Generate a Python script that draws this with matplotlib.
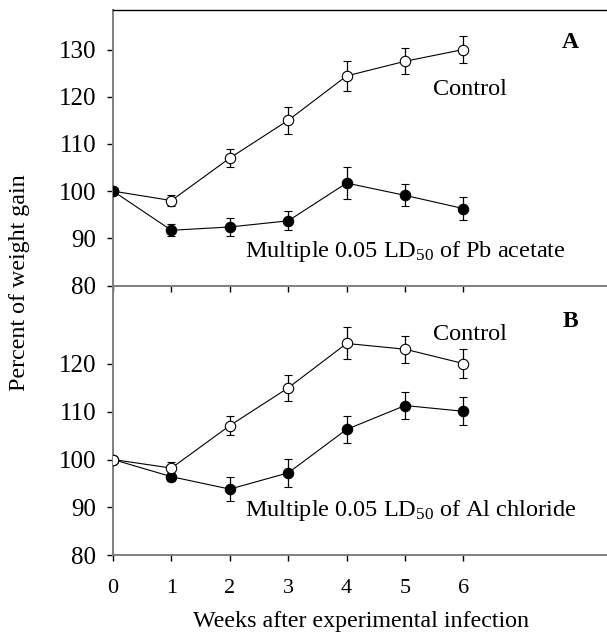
import matplotlib
matplotlib.use("Agg")
import matplotlib.pyplot as plt

plt.rcParams['font.family'] = ['Liberation Serif', 'DejaVu Serif']
plt.rcParams['mathtext.fontset'] = 'custom'
plt.rcParams['mathtext.rm'] = 'Liberation Serif'
plt.rcParams['mathtext.it'] = 'Liberation Serif:italic'
plt.rcParams['mathtext.bf'] = 'Liberation Serif:bold'

weeks = [0, 1, 2, 3, 4, 5, 6]

# Panel A
ctrl_a = [100, 98.0, 107.0, 115.0, 124.4, 127.5, 130.0]
ctrl_a_err = [0, 1.1, 1.85, 2.8, 3.1, 2.75, 2.9]
pb = [100, 91.7, 92.4, 93.7, 101.7, 99.1, 96.3]
pb_err = [0, 1.3, 1.95, 2.0, 3.4, 2.3, 2.4]

# Panel B
ctrl_b = [100, 98.2, 107.1, 115.0, 124.3, 123.1, 120.1]
ctrl_b_err = [0, 1.2, 1.95, 2.65, 3.35, 2.85, 3.0]
al = [100, 96.4, 93.8, 97.2, 106.3, 111.3, 110.1]
al_err = [0, 0.8, 2.5, 3.0, 2.9, 2.9, 2.9]

yticks_a = [80, 90, 100, 110, 120, 130]
yticks_b = [80, 90, 100, 110, 120]

W, H = 607, 637
fig = plt.figure(figsize=(W / 100, H / 100), dpi=100)

left = 113 / W
axA = fig.add_axes([left, 1 - 285.5 / H, 1 - left, (285.5 - 10) / H])
axB = fig.add_axes([left, 1 - 555 / H, 1 - left, (555 - 285.5) / H])

spine_gray = '#7f7f7f'


def draw(ax, ctrl, ctrl_err, trt, trt_err, filled_on_top):
    z_ctrl, z_trt = (3, 4) if filled_on_top else (4, 3)
    ax.errorbar(weeks, trt, yerr=trt_err, fmt='-o', color='black', lw=0.8,
                elinewidth=0.9, capsize=3, capthick=0.9, ms=7.5,
                mfc='black', mec='black', mew=0.8, zorder=z_trt)
    ax.errorbar(weeks, ctrl, yerr=ctrl_err, fmt='-o', color='black', lw=0.8,
                elinewidth=0.9, capsize=3, capthick=0.9, ms=7.5,
                mfc='white', mec='black', mew=0.8, zorder=z_ctrl)
    ax.set_xlim(0, (W - 113) / 58.4)
    ax.set_xticks(weeks)
    ax.spines['right'].set_visible(False)
    for s in ('left', 'bottom'):
        ax.spines[s].set_color(spine_gray)
        ax.spines[s].set_linewidth(1.4)
    ax.tick_params(axis='both', direction='out', length=4, width=1,
                   color='black')
    ax.tick_params(axis='y', labelsize=18, pad=8)
    ax.set_facecolor('none')


draw(axA, ctrl_a, ctrl_a_err, pb, pb_err, True)
axA.set_ylim(80, 80 + 275.5 / 4.72)
axA.set_yticks(yticks_a)
axA.spines['top'].set_color('black')
axA.spines['top'].set_linewidth(1.0)
axA.tick_params(axis='x', labelbottom=False)
axA.text(6.11, 121.6, 'Control', fontsize=17.5, ha='center', va='center')
axA.text(2.26, 87.1, r'Multiple 0.05 LD$_{\mathrm{50}}$ of Pb acetate',
         fontsize=17.5, ha='left', va='center')
axA.text(7.83, 131.4, 'A', fontsize=17, fontweight='bold', ha='center',
         va='center')

draw(axB, ctrl_b, ctrl_b_err, al, al_err, False)
axB.set_ylim(80, 80 + 269.5 / 4.775)
axB.set_yticks(yticks_b)
axB.spines['top'].set_visible(False)
axB.tick_params(axis='x', labelsize=16, pad=13)
axB.text(6.11, 126.1, 'Control', fontsize=17.5, ha='center', va='center')
axB.text(2.26, 89.4, r'Multiple 0.05 LD$_{\mathrm{50}}$ of Al chloride',
         fontsize=17.5, ha='left', va='center')
axB.text(7.83, 128.8, 'B', fontsize=17, fontweight='bold', ha='center',
         va='center')

fig.text(20 / W, 1 - 283 / H, 'Percent of weight gain', rotation=90,
         fontsize=17.3, ha='center', va='center')
fig.text(361 / W, 1 - 622 / H, 'Weeks after experimental infection',
         fontsize=17.3, ha='center', va='center')

fig.savefig('out.png', dpi=100)
